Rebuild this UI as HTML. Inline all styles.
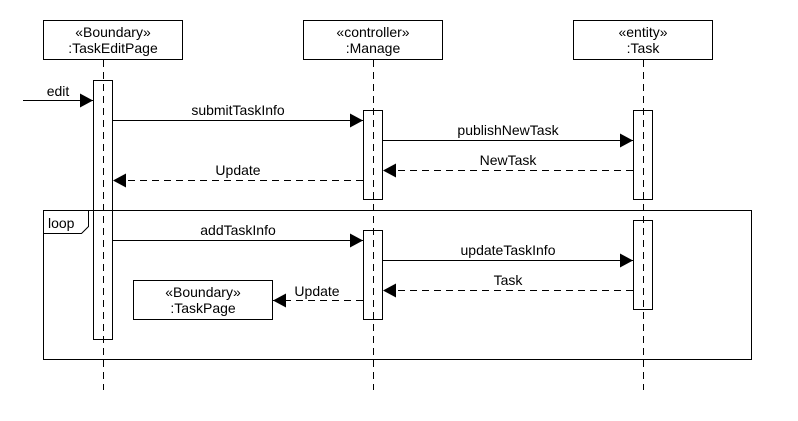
<!DOCTYPE html>
<html><head><style>body{margin:0;background:#fff}</style></head><body>
<svg width="798" height="416" xmlns="http://www.w3.org/2000/svg" font-family="Liberation Sans, sans-serif" font-size="14" fill="#000">
<defs><marker id="a" markerWidth="13" markerHeight="14" refX="13" refY="7" orient="auto" markerUnits="userSpaceOnUse"><path d="M0,0L13,7L0,14z" fill="#000"/></marker></defs>
<g stroke="#000" fill="none">
<rect x="43.5" y="20.5" width="139" height="39" fill="#fff"/>
<rect x="303.5" y="20.5" width="139" height="39" fill="#fff"/>
<rect x="573.5" y="20.5" width="139" height="39" fill="#fff"/>
<g stroke-dasharray="7,5"><line x1="103.5" y1="60" x2="103.5" y2="390"/><line x1="373.5" y1="60" x2="373.5" y2="390"/><line x1="643.5" y1="60" x2="643.5" y2="390"/></g>
<rect x="43.5" y="210.5" width="708" height="149"/>
<path d="M43.5 233.5H81.5L88.5 226.5V210.5"/>
<rect x="93.5" y="80.5" width="19" height="259"/>
<rect x="363.5" y="110.5" width="19" height="89"/>
<rect x="363.5" y="230.5" width="19" height="89"/>
<rect x="633.5" y="110.5" width="19" height="89"/>
<rect x="633.5" y="220.5" width="19" height="89"/>
<rect x="133.5" y="280.5" width="139" height="39" fill="#fff"/>
<line x1="23" y1="100.5" x2="93" y2="100.5" marker-end="url(#a)"/>
<line x1="113" y1="120.5" x2="363" y2="120.5" marker-end="url(#a)"/>
<line x1="383" y1="140.5" x2="633" y2="140.5" marker-end="url(#a)"/>
<line x1="633" y1="170.5" x2="383" y2="170.5" stroke-dasharray="7,5" marker-end="url(#a)"/>
<line x1="363" y1="180.5" x2="113" y2="180.5" stroke-dasharray="7,5" marker-end="url(#a)"/>
<line x1="113" y1="240.5" x2="363" y2="240.5" marker-end="url(#a)"/>
<line x1="383" y1="260.5" x2="633" y2="260.5" marker-end="url(#a)"/>
<line x1="633" y1="290.5" x2="383" y2="290.5" stroke-dasharray="7,5" marker-end="url(#a)"/>
<line x1="363" y1="300.5" x2="273" y2="300.5" stroke-dasharray="7,5" marker-end="url(#a)"/>
</g>
<g text-anchor="middle">
<text x="113" y="37">«Boundary»</text><text x="113" y="53">:TaskEditPage</text>
<text x="373" y="37">«controller»</text><text x="373" y="53">:Manage</text>
<text x="643" y="37">«entity»</text><text x="643" y="53">:Task</text>
<text x="203" y="297">«Boundary»</text><text x="203" y="313">:TaskPage</text>
<text x="58" y="96">edit</text>
<text x="238" y="115">submitTaskInfo</text>
<text x="508" y="135">publishNewTask</text>
<text x="508" y="165">NewTask</text>
<text x="238" y="175">Update</text>
<text x="238" y="235">addTaskInfo</text>
<text x="508" y="255">updateTaskInfo</text>
<text x="508" y="285">Task</text>
<text x="317" y="296">Update</text>
</g>
<text x="48" y="228">loop</text>
</svg>
</body></html>
